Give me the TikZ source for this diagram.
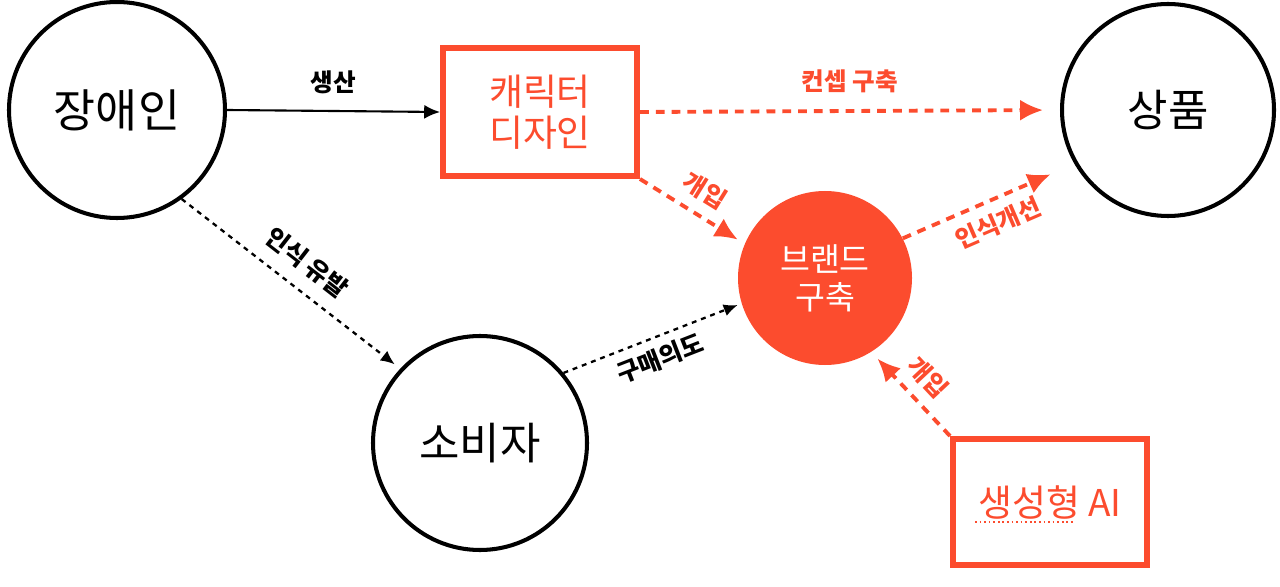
\documentclass[tikz,border=0pt]{standalone}
\usepackage{fontspec}
\setmainfont{Noto Sans CJK KR}
\usepackage{tikz}
\usetikzlibrary{arrows.meta}
\usetikzlibrary{positioning}
\definecolor{brandred}{RGB}{252,76,46}

\begin{document}
\begin{tikzpicture}[x=0.02cm,y=-0.02cm,
		bigcircle/.style={circle,draw=black,line width=2.3pt,inner sep=0pt},
		redbox/.style={rectangle,draw=brandred,line width=3.4pt,inner sep=0pt,text=brandred,align=center},
		solidarrow/.style={line width=1.2pt,-{Latex[length=9pt,width=8pt]}},
		dotarrow/.style={line width=1.3pt,dash pattern=on 2.8pt off 2.8pt,-{Latex[length=8pt,width=7pt]}},
		redarrow/.style={draw=brandred,line width=2.2pt,dash pattern=on 5pt off 4pt,-{Latex[length=13pt,width=12pt]},brandred},
		edgelabel/.style={font=\fontsize{14}{16}\selectfont\bfseries,inner sep=2pt}]
		\useasboundingbox (0,0) rectangle (1280,587);
		
		% circles
		\node[bigcircle,minimum size=216*0.02cm,font=\fontsize{26}{30}\selectfont] (jang) at (117,110) {장애인};
		\node[bigcircle,minimum size=212*0.02cm,font=\fontsize{25}{30}\selectfont] (sang) at (1168,110) {상품};
		\node[bigcircle,minimum size=214*0.02cm,font=\fontsize{25}{30}\selectfont] (sobi) at (480,443) {소비자};
		\node[circle,fill=brandred,inner sep=0pt,minimum size=174*0.02cm,text=white,align=center,font=\fontsize{18.5}{21.5}\selectfont] (brand) at (825,278) {브랜드\\구축};
		
		% red boxes
		\node[redbox,minimum width=194*0.02cm,minimum height=128*0.02cm,font=\fontsize{21}{23}\selectfont] (chara) at (540,112) {캐릭터\\디자인};
		\node[redbox,minimum width=194*0.02cm,minimum height=126*0.02cm,font=\fontsize{21}{23}\selectfont] (genai) at (1050,502) {생성형 AI};
		% dotted underline below the first word
		\draw[brandred,line width=1pt,dash pattern=on 1pt off 1.6pt] (975,522) -- (1073,522);
		
		% connectors
		\draw[solidarrow] (jang.east) -- node[edgelabel,above=7pt] (lprod) {생산} (chara.west);
		\draw[redarrow,shorten >=0.34cm] (chara.east) -- node[edgelabel,above=7pt,text=brandred] (lconc) {컨셉 구축} (sang.west);
		\draw[redarrow,shorten >=0.16cm] (chara.south east) -- node[edgelabel,sloped,above=4pt,text=brandred] (lint1) {개입} (brand.157);
		\draw[redarrow,shorten >=0.52cm] (brand.27) -- node[edgelabel,sloped,below=4pt,text=brandred] (limpr) {인식개선} (sang.210);
		\draw[redarrow,shorten >=0.18cm] (genai.north west) -- node[edgelabel,sloped,above=4pt,text=brandred] (lint2) {개입} (brand.302);
		\draw[dotarrow,shorten >=0.14cm] (jang.-54) -- node[edgelabel,sloped,above=6pt] (laware) {인식 유발} (sobi.137);
		\draw[dotarrow,shorten >=0.08cm] (sobi.40) -- node[edgelabel,sloped,below=3pt] (lbuy) {구매의도} (brand.197);
	\end{tikzpicture}
\end{document}
